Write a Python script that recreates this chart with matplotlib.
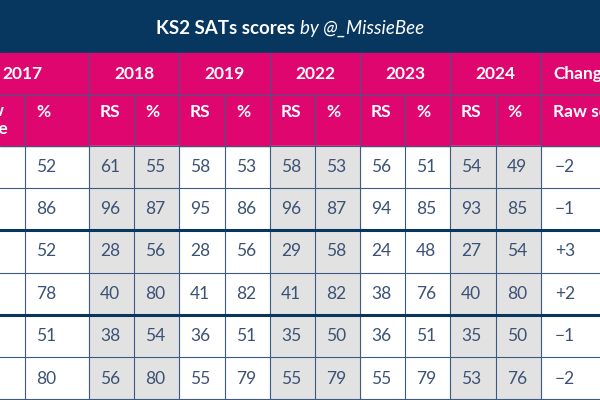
import matplotlib
matplotlib.use("Agg")
import matplotlib.pyplot as plt
from matplotlib.patches import Rectangle

years = ["2017", "2018", "2019", "2022", "2023", "2024"]
rs_2017 = [None, None, None, None, None, None]
pct_2017 = [52, 86, 52, 78, 51, 80]
rs_2018 = [61, 96, 28, 40, 38, 56]
pct_2018 = [55, 87, 56, 80, 54, 80]
rs_2019 = [58, 95, 28, 41, 36, 55]
pct_2019 = [53, 86, 56, 82, 51, 79]
rs_2022 = [58, 96, 29, 41, 35, 55]
pct_2022 = [53, 87, 58, 82, 50, 79]
rs_2023 = [56, 94, 24, 38, 36, 55]
pct_2023 = [51, 85, 48, 76, 51, 79]
rs_2024 = [54, 93, 27, 40, 35, 53]
pct_2024 = [49, 85, 54, 80, 50, 76]
change = ["−2", "−1", "+3", "+2", "−1", "−2"]

NAVY = "#07375f"; PINK = "#e0066f"; GREY = "#e2e2e2"; TXT = "#3b5275"; LINE = "#3d5a85"
FONT = "Lato"
FS = 12.5

fig = plt.figure(figsize=(6, 4), dpi=100)
ax = fig.add_axes([0, 0, 1, 1])
ax.set_xlim(0, 600); ax.set_ylim(400, 0); ax.axis("off")

xs = [-45, 25, 89, 134, 179, 225, 270, 315, 360, 405, 450, 496, 541, 660]
ys = [146, 188, 230, 273, 315, 357, 400]
cols = [rs_2017, pct_2017, rs_2018, pct_2018, rs_2019, pct_2019, rs_2022, pct_2022,
        rs_2023, pct_2023, rs_2024, pct_2024, change]
grey_cols = {2, 3, 6, 7, 10, 11}

ax.add_patch(Rectangle((0, 0), 600, 53, color=NAVY))
ax.add_patch(Rectangle((0, 53), 600, 93, color=PINK))
ax.text(300, 28, "KS2 SATs scores ", ha="right", va="center", color="white",
        fontsize=13.5, fontweight="bold", fontfamily=FONT)
ax.text(300, 28, "by @_MissieBee", ha="left", va="center", color="white",
        fontsize=13.5, fontstyle="italic", fontfamily=FONT)

for ci in range(13):
    x0, x1 = xs[ci], xs[ci + 1]
    for ri in range(6):
        if ci in grey_cols:
            ax.add_patch(Rectangle((x0, ys[ri]), x1 - x0, ys[ri + 1] - ys[ri], color=GREY))
        v = cols[ci][ri]
        if v is not None:
            ax.text(x0 + (14 if ci == 12 else 11), (ys[ri] + ys[ri + 1]) / 2, str(v),
                    ha="left", va="center", color=TXT, fontsize=FS, fontfamily=FONT)

# headers
for i, y in enumerate(years):
    ax.text((xs[2 * i] + xs[2 * i + 2]) / 2, 74, y, ha="center", va="center",
            color="white", fontsize=FS, fontweight="bold", fontfamily=FONT)
ax.text(553, 74, "Change", ha="left", va="center", color="white", fontsize=FS,
        fontweight="bold", fontfamily=FONT)
ax.text(553, 112, "Raw score", ha="left", va="center", color="white", fontsize=FS,
        fontweight="bold", fontfamily=FONT)
ax.text(-12, 120, "Raw\nscore", ha="center", va="center", color="white", fontsize=FS,
        fontweight="bold", fontfamily=FONT, linespacing=1.1)
for ci in range(1, 12):
    ax.text(xs[ci] + 11, 112, "%" if ci % 2 else "RS", ha="left", va="center",
            color="white", fontsize=FS, fontweight="bold", fontfamily=FONT)

# grid
for k in range(1, 13):
    x = xs[k]
    yt = 95 if k % 2 == 1 else 53
    ax.plot([x, x], [yt, 400], color=LINE, lw=0.8)
ax.plot([0, 600], [95, 95], color=LINE, lw=0.8)
for y in ys[:-1]:
    thick = y in (230, 315)
    ax.plot([0, 600], [y, y], color=NAVY if thick else LINE, lw=2.2 if thick else 0.8)
ax.plot([0, 600], [399, 399], color=LINE, lw=0.8)

fig.savefig("out.png", dpi=100)
